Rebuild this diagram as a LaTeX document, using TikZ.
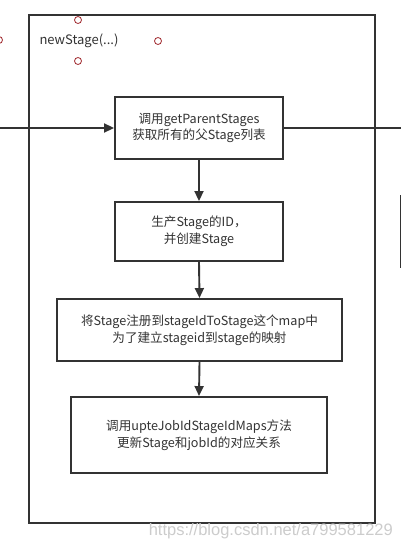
\documentclass[tikz,border=0pt]{standalone}
\usepackage{fontspec}
\setmainfont{Noto Sans CJK SC}
\newfontfamily\wmfont{Liberation Sans}
\usetikzlibrary{arrows.meta}
\definecolor{ln}{HTML}{333333}
\definecolor{tx}{HTML}{333333}
\definecolor{dot}{HTML}{A0282E}
\tikzset{
  x=1pt,y=-1pt,
  stepbox/.style={draw=ln,line width=1.9pt,fill=white,inner sep=0pt,
    text=tx,font=\fontsize{12.6}{16.5}\selectfont,align=center},
  conn/.style={draw=ln,line width=1.9pt,-{Triangle[length=10pt,width=9pt]}},
  handle/.style={draw=dot,line width=0.8pt,fill=white,circle,minimum size=7pt,inner sep=0pt}
}
\begin{document}
\begin{tikzpicture}
\useasboundingbox (0,0) rectangle (401,551);
% outer frame
\node[draw=ln,line width=1.9pt,minimum width=346pt,minimum height=508pt,inner sep=0pt] (frame) at (202,269) {};
\node[text=tx,font=\fontsize{13}{15}\selectfont,inner sep=0pt] (title) at (79,41) {newStage(...)};
\node[handle] (h1) at (78,20) {};
\node[handle] (h2) at (158,41) {};
\node[handle] (h3) at (78,61) {};
\node[handle] (h4) at (-1,40) {};
% boxes
\node[stepbox,minimum width=168pt,minimum height=62pt] (b1) at (199,128) {调用getParentStages\\获取所有的父Stage列表};
\node[stepbox,minimum width=168pt,minimum height=59pt] (b2) at (199,231.5) {生产Stage的ID，\\并创建Stage};
\node[stepbox,minimum width=285pt,minimum height=62pt] (b3) at (199.5,330) {将Stage注册到stageIdToStage这个map中\\为了建立stageid到stage的映射};
\node[stepbox,minimum width=256pt,minimum height=76pt] (b4) at (199,435) {调用upteJobIdStageIdMaps方法\\更新Stage和jobId的对应关系};
% external ends
\coordinate (inL) at (0,128);
\coordinate (outR) at (401,128);
\coordinate (sTop) at (400,195);
\coordinate (sBot) at (400,268);
% connectors
\draw[conn] (inL) -- (b1.west);
\draw[draw=ln,line width=1.9pt] (b1.east) -- (outR);
\draw[conn] (b1.south) -- (b2.north);
\draw[conn] (b2.south) -- (b3.north);
\draw[conn] (b3.south) -- (b4.north);
\draw[draw=ln,line width=1pt] (sTop) -- (sBot);
% watermark
\node[text=gray!40,font=\wmfont\fontsize{16.5}{18}\selectfont,anchor=east,inner sep=0pt] (wm) at (393,531) {https://blog.csdn.net/a799581229};
\end{tikzpicture}
\end{document}
